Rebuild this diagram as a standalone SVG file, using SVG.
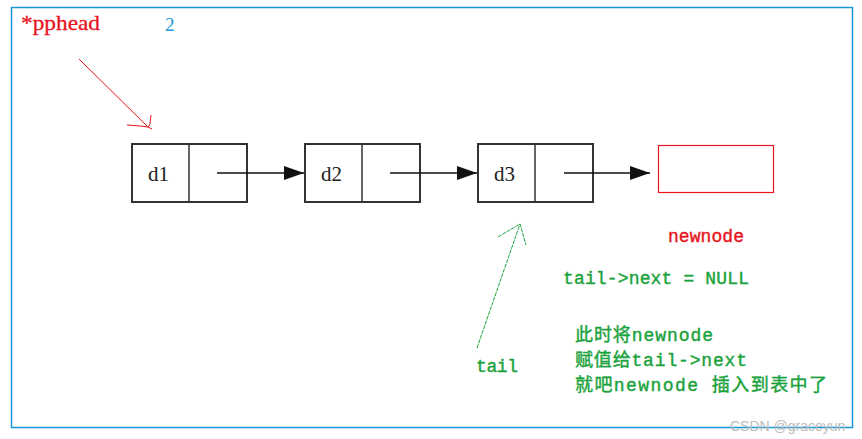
<svg xmlns="http://www.w3.org/2000/svg" width="862" height="439" viewBox="0 0 862 439">
<defs>
<style>
.cell{fill:#fff;stroke:#333;stroke-width:2}
.div{stroke:#333;stroke-width:1.5}
.lbl{font-family:"Liberation Serif",serif;font-size:21px;fill:#222}
.link{stroke:#111;stroke-width:1.5;fill:none}
.g{font-family:"Liberation Mono","Noto Sans CJK SC",monospace;font-size:18px;fill:#1aa23c;stroke:#1aa23c;stroke-width:0.4}
.r{font-family:"Liberation Mono","Noto Sans CJK SC",monospace;font-size:18px;fill:#e8141e;stroke:#e8141e;stroke-width:0.4}
</style>
<marker id="ah" viewBox="0 0 20 14" refX="20" refY="7" markerWidth="20" markerHeight="14" markerUnits="userSpaceOnUse" orient="auto">
<path d="M0,0 L20,7 L0,14 z" fill="#111"/>
</marker>
</defs>
<rect x="0" y="0" width="862" height="439" fill="#fff"/>
<rect x="11.5" y="7.5" width="841" height="420" fill="none" stroke="#1a98d5" stroke-width="1.5"/>
<text x="21" y="30" font-family="Liberation Serif,serif" font-size="21" fill="#e8141e" stroke="#e8141e" stroke-width="0.3" textLength="79" lengthAdjust="spacingAndGlyphs">*pphead</text>
<text x="165" y="31" font-family="Liberation Serif,serif" font-size="19" fill="#1a98d5">2</text>
<g id="n1"><rect class="cell" x="132" y="144" width="115" height="58"/><line class="div" x1="189" y1="144" x2="189" y2="202"/><text class="lbl" x="148" y="181">d1</text></g>
<g id="n2"><rect class="cell" x="305" y="144" width="115" height="58"/><line class="div" x1="362" y1="144" x2="362" y2="202"/><text class="lbl" x="321" y="181">d2</text></g>
<g id="n3"><rect class="cell" x="478" y="144" width="115" height="58"/><line class="div" x1="535" y1="144" x2="535" y2="202"/><text class="lbl" x="494" y="181">d3</text></g>
<g id="newnode"><rect x="658.5" y="145.5" width="115" height="47" fill="#fff" stroke="#e8141e" stroke-width="1.2"/></g>
<g id="connectors">
<line class="link" x1="217" y1="173" x2="304" y2="173" marker-end="url(#ah)"/>
<line class="link" x1="390" y1="173" x2="477" y2="173" marker-end="url(#ah)"/>
<line class="link" x1="564" y1="173" x2="650" y2="173" marker-end="url(#ah)"/>
<path d="M79,59 L148,127 M127,125 L140,126 L148,127 L152,129 M151,115 L150,124 L148,127" stroke="#e8141e" stroke-width="1" fill="none"/>
<path d="M477,348 L520,224 M498,237 L520,224 L526,245" stroke="#1aa23c" stroke-width="1" fill="none" stroke-dasharray="4,1"/>
</g>
<text class="r" x="668" y="242" textLength="76">newnode</text>
<text class="g" x="563" y="284" textLength="186">tail-&gt;next = NULL</text>
<text class="g" x="476" y="372" textLength="42">tail</text>
<text class="g" x="575" y="341" textLength="138">此时将newnode</text>
<text class="g" x="575" y="366" textLength="172">赋值给tail-&gt;next</text>
<text class="g" x="575" y="391" textLength="252">就吧newnode 插入到表中了</text>
<text x="730" y="431" font-family="Liberation Sans,sans-serif" font-size="14" fill="#bbb">CSDN @graceyun</text>
</svg>
